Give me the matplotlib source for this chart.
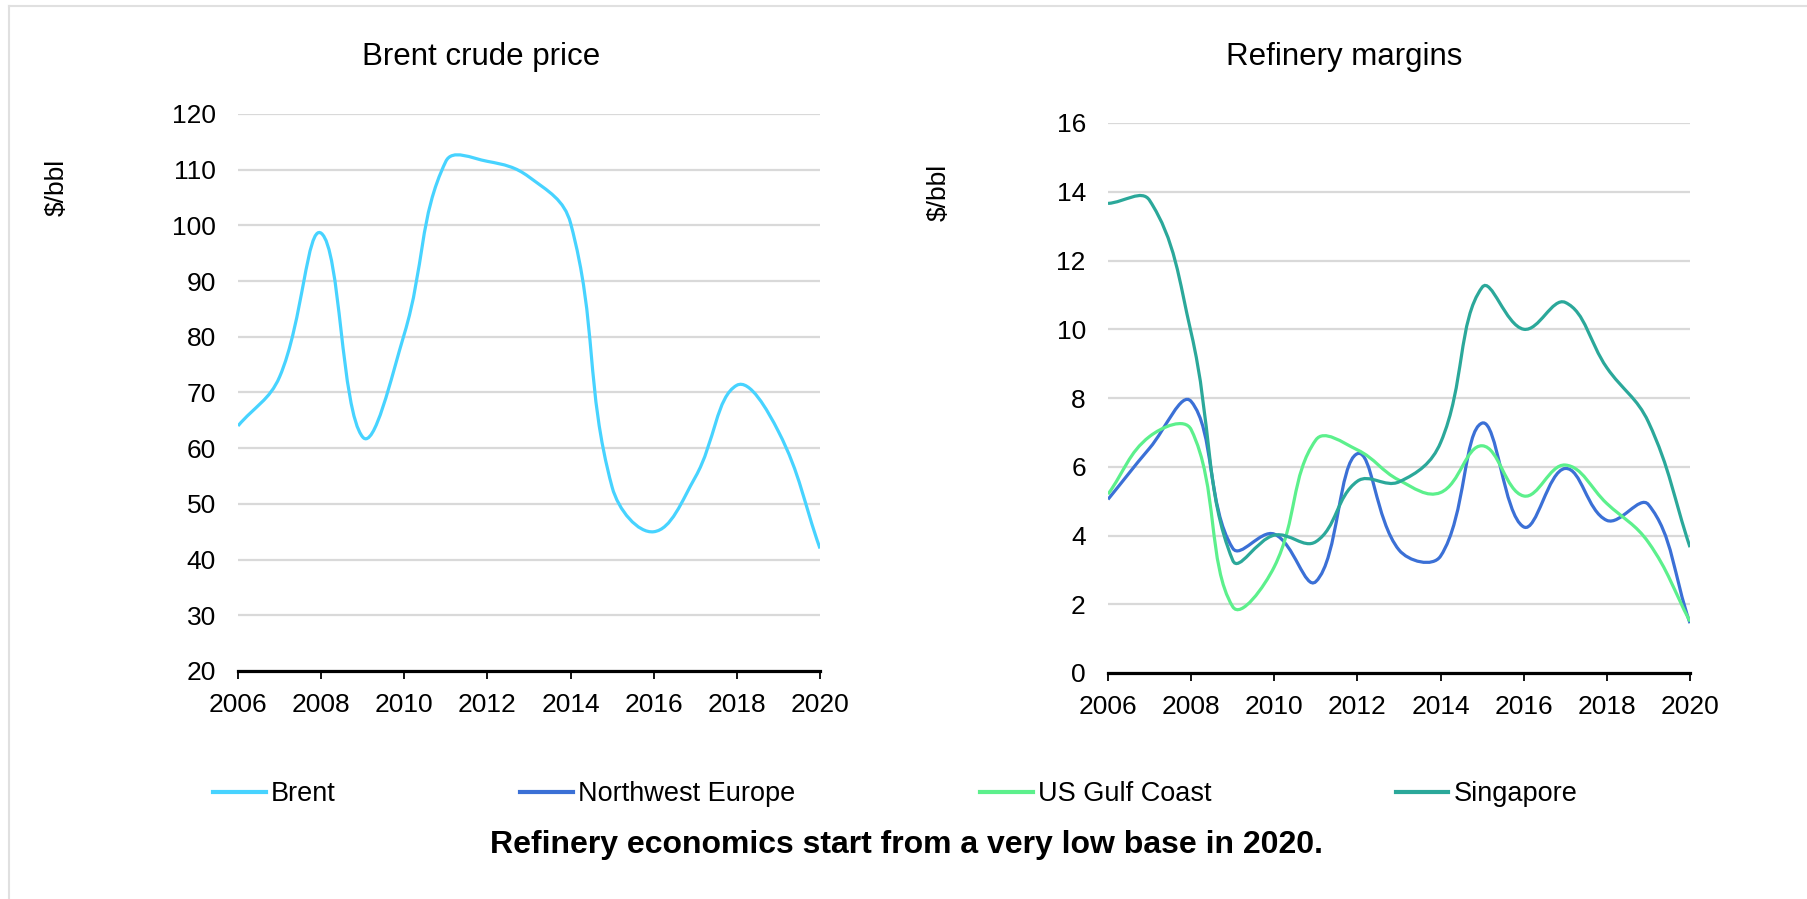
import numpy as np
import matplotlib
matplotlib.use("Agg")
import matplotlib.pyplot as plt
from matplotlib.path import Path
from matplotlib.patches import PathPatch
from matplotlib.lines import Line2D

plt.rcParams['font.family'] = ['Liberation Sans', 'DejaVu Sans']

years = [2006, 2007, 2008, 2009, 2010, 2011, 2012, 2013, 2014, 2015, 2016, 2017, 2018, 2019, 2020]
brent = [64.0, 72.8, 98.6, 62.0, 80.5, 111.5, 111.5, 108.7, 100.4, 53.0, 45.0, 54.8, 71.3, 63.0, 42.0]
nw_europe = [5.05, 6.54, 7.9, 3.63, 4.04, 2.66, 6.38, 3.58, 3.4, 7.27, 4.25, 5.95, 4.44, 4.9, 1.45]
us_gulf = [5.2, 6.88, 7.08, 1.93, 3.09, 6.78, 6.49, 5.61, 5.25, 6.61, 5.15, 6.05, 4.93, 3.8, 1.5]
singapore = [13.66, 13.75, 9.9, 3.28, 4.01, 3.82, 5.58, 5.56, 6.7, 11.22, 10.0, 10.78, 8.88, 7.3, 3.66]

c_brent = '#47d3ff'
c_nwe = '#3b70d6'
c_usgc = '#5cf08c'
c_sing = '#2ba89a'

W, H = 1807, 899


def smooth_path(xs, ys, sx, sy, t=0.4):
    # excel-like smoothed line, control arms weighted by screen segment length
    pts = np.column_stack([np.array(xs, float) * sx, np.array(ys, float) * sy])
    pad = np.vstack([pts[0], pts, pts[-1]])
    n = len(pts)
    c_in = np.zeros_like(pts)
    c_out = np.zeros_like(pts)
    for i in range(n):
        p0, p1, p2 = pad[i], pad[i + 1], pad[i + 2]
        d01 = np.hypot(*(p1 - p0))
        d12 = np.hypot(*(p2 - p1))
        tot = d01 + d12
        c_in[i] = p1 - t * d01 / tot * (p2 - p0)
        c_out[i] = p1 + t * d12 / tot * (p2 - p0)
    verts = [pts[0]]
    codes = [Path.MOVETO]
    for i in range(n - 1):
        verts += [c_out[i], c_in[i + 1], pts[i + 1]]
        codes += [Path.CURVE4] * 3
    verts = np.array(verts) / [sx, sy]
    return Path(verts, codes)


def style_axes(ax, ymin, ymax, ystep):
    ax.set_xlim(2006, 2020)
    ax.set_ylim(ymin, ymax)
    ax.set_yticks(np.arange(ymin, ymax + 0.01, ystep))
    ax.set_xticks(range(2006, 2021, 2))
    for s in ['top', 'right', 'left']:
        ax.spines[s].set_visible(False)
    ax.spines['bottom'].set_linewidth(2.3)
    ax.spines['bottom'].set_zorder(5)
    ax.grid(axis='y', color='#d9d9d9', linewidth=1.6)
    ax.set_axisbelow(True)
    ax.tick_params(axis='y', length=0, pad=16, labelsize=19)
    ax.tick_params(axis='x', direction='out', length=5.5, width=1.3, pad=10, labelsize=19)


fig = plt.figure(figsize=(W / 100, H / 100), dpi=100)

ax1 = fig.add_axes([238 / W, 1 - 671 / H, 582 / W, 557 / H])
style_axes(ax1, 20, 120, 10)
ax1.add_patch(PathPatch(smooth_path(years, brent, 582 / 14, 557 / 100),
                        fill=False, edgecolor=c_brent, lw=2.3))

ax2 = fig.add_axes([1108 / W, 1 - 673 / H, 582 / W, 550 / H])
style_axes(ax2, 0, 16, 2)
for vals, col in [(nw_europe, c_nwe), (us_gulf, c_usgc), (singapore, c_sing)]:
    ax2.add_patch(PathPatch(smooth_path(years, vals, 582 / 14, 550 / 16),
                            fill=False, edgecolor=col, lw=2.3))

fig.text(481 / W, 1 - 57 / H, 'Brent crude price', ha='center', va='center', fontsize=22.5)
fig.text(1344 / W, 1 - 57 / H, 'Refinery margins', ha='center', va='center', fontsize=22.5)
fig.text(57 / W, 1 - 187 / H, '$/bbl', ha='center', va='center', rotation=90, fontsize=19)
fig.text(939 / W, 1 - 192 / H, '$/bbl', ha='center', va='center', rotation=90, fontsize=19)

handles = [Line2D([], [], color=c, lw=3) for c in [c_brent, c_nwe, c_usgc, c_sing]]
labels = ['Brent', 'Northwest Europe', 'US Gulf Coast', 'Singapore']
fig.legend(handles, labels, loc='center left', bbox_to_anchor=(213 / W, 1 - 794 / H),
           ncol=4, frameon=False, fontsize=19.5, handlelength=1.95, handletextpad=0.2,
           columnspacing=6.8, borderaxespad=0, borderpad=0)

fig.text(906 / W, 1 - 845 / H, 'Refinery economics start from a very low base in 2020.',
         ha='center', va='center', fontsize=23, fontweight='bold')

# light frame round the picture
fig.add_artist(Line2D([9 / W, 9 / W], [0, 1 - 6 / H], color='#e0e0e0', lw=1.5))
fig.add_artist(Line2D([9 / W, 1], [1 - 6 / H, 1 - 6 / H], color='#e0e0e0', lw=1.5))

fig.savefig('out.png', dpi=100)
